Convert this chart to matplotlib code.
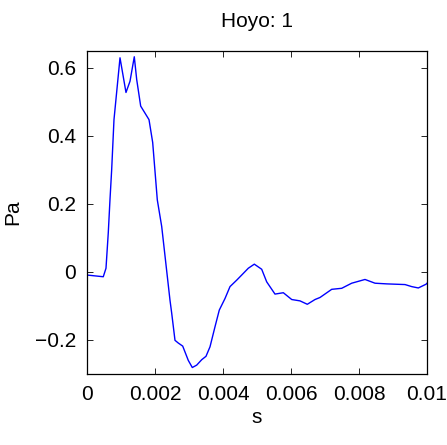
import matplotlib
matplotlib.use("Agg")
import matplotlib.pyplot as plt
import numpy as np

# time in ms, pressure in Pa
t_ms = [0.0, 0.479, 0.559, 0.626, 0.676, 0.726, 0.794, 0.971, 1.147,
        1.265, 1.391, 1.462, 1.579, 1.824, 1.932, 2.068, 2.197, 2.441, 2.491,
        2.588, 2.685, 2.815, 2.979, 3.097, 3.226, 3.374, 3.5, 3.618, 3.765,
        3.891, 4.059, 4.206, 4.403, 4.55, 4.744, 4.921, 5.138, 5.285, 5.529,
        5.774, 6.021, 6.265, 6.479, 6.706, 6.853, 7.197, 7.491, 7.785, 8.176,
        8.471, 8.815, 9.353, 9.55, 9.744, 9.971, 10.0]
pa = [-0.009, -0.014, 0.011, 0.115, 0.212, 0.301, 0.448, 0.630, 0.528,
      0.561, 0.633, 0.566, 0.488, 0.448, 0.381, 0.212, 0.134, -0.083, -0.121,
      -0.201, -0.209, -0.218, -0.260, -0.281, -0.274, -0.258, -0.248, -0.220, -0.161,
      -0.112, -0.078, -0.043, -0.024, -0.009, 0.011, 0.023, 0.008, -0.029, -0.065,
      -0.061, -0.081, -0.085, -0.095, -0.081, -0.075, -0.051, -0.048, -0.033, -0.022,
      -0.033, -0.035, -0.037, -0.043, -0.047, -0.036, -0.033]

xticks = [0, 0.002, 0.004, 0.006, 0.008, 0.01]
xticklabels = ["0", "0.002", "0.004", "0.006", "0.008", "0.01"]
yticks = [-0.2, 0, 0.2, 0.4, 0.6]
yticklabels = ["\u22120.2", "0", "0.2", "0.4", "0.6"]

plt.rcParams["font.family"] = ["Liberation Sans", "DejaVu Sans"]

fig = plt.figure(figsize=(4.47, 4.45), dpi=100)
ax = fig.add_axes([0.1946, 0.1596, 0.7607, 0.7258])

t = np.array(t_ms) / 1000.0
ax.plot(t, pa, color="#0000ff", linewidth=1.0)

ax.set_xlim(0, 0.01)
ax.set_ylim(-0.3, 0.65)
ax.set_xticks(xticks)
ax.set_xticklabels(xticklabels)
ax.set_yticks(yticks)
ax.set_yticklabels(yticklabels)
ax.tick_params(direction="in", top=True, right=True, length=4, width=0.6,
               labelsize=15, pad=8)
for sp in ax.spines.values():
    sp.set_linewidth(0.9)

ax.set_title("Hoyo: 1", fontsize=15, pad=17)
ax.set_xlabel("s", fontsize=15, labelpad=3)
ax.set_ylabel("Pa", fontsize=15, labelpad=9)

fig.savefig("out.png", dpi=100)
